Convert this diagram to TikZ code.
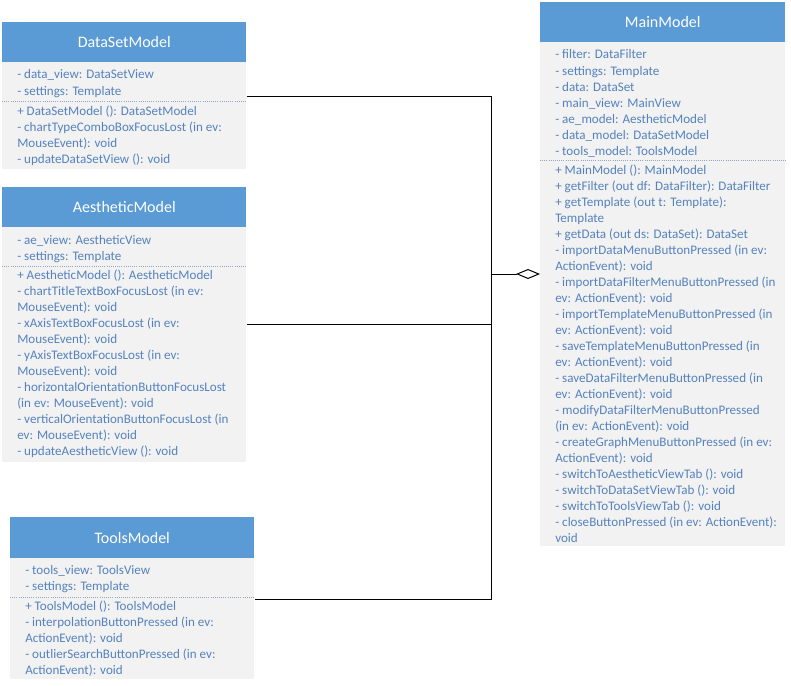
\documentclass[tikz,border=0pt]{standalone}
\usepackage{fontspec}
\setmainfont{Carlito}
\usetikzlibrary{arrows.meta}
\definecolor{hdr}{HTML}{5B9BD5}
\definecolor{bodyfill}{HTML}{F2F2F2}
\definecolor{txt}{HTML}{5582BE}
\definecolor{sepc}{HTML}{8EA6C4}
\newcommand\umllines[4]{%
  \foreach \t [count=\i from 1] in {#4} {%
    \node[linetxt] (#1\i) at ({#2},{#3+(\i-1)*16}) {\t};
  }%
}
\begin{document}
\begin{tikzpicture}[x=0.75pt,y=-0.75pt,
  hdrbox/.style={draw=none,fill=hdr,anchor=north west,inner sep=0pt,
    minimum height=30pt,text=white,font=\fontsize{12}{14}\selectfont},
  bodybox/.style={draw=none,fill=bodyfill,anchor=north west,inner sep=0pt},
  linetxt/.style={anchor=base west,inner sep=0pt,text=txt,font=\fontsize{9.8}{11}\selectfont},
  sepline/.style={draw=sepc,densely dotted,line width=0.6pt},
  conn/.style={draw=black,line width=0.75pt}]
\useasboundingbox (0,0) rectangle (791,685);
\fill[white] (0,0) rectangle (791,685);

% DataSetModel
\node[hdrbox,minimum width=183pt] (dsh) at (2,22) {DataSetModel};
\node[bodybox,minimum width=183pt,minimum height=80.25pt] (dsb) at (2,62) {};
\draw[sepline] (dsb.west |- 0,101) -- (dsb.east |- 0,101);
\umllines{dsa}{17}{79}{{- data\_view: DataSetView},{- settings: Template}}
\umllines{dsm}{17}{115}{{+ DataSetModel (): DataSetModel},{- chartTypeComboBoxFocusLost (in ev:},{MouseEvent): void},{- updateDataSetView (): void}}

% AestheticModel
\node[hdrbox,minimum width=183pt] (aeh) at (2,187) {AestheticModel};
\node[bodybox,minimum width=183pt,minimum height=176.25pt] (aeb) at (2,227) {};
\draw[sepline] (aeb.west |- 0,266) -- (aeb.east |- 0,266);
\umllines{aea}{17}{244}{{- ae\_view: AestheticView},{- settings: Template}}
\umllines{aem}{17}{279}{{+ AestheticModel (): AestheticModel},{- chartTitleTextBoxFocusLost (in ev:},{MouseEvent): void},{- xAxisTextBoxFocusLost (in ev:},{MouseEvent): void},{- yAxisTextBoxFocusLost (in ev:},{MouseEvent): void},{- horizontalOrientationButtonFocusLost},{(in ev: MouseEvent): void},{- verticalOrientationButtonFocusLost (in},{ev: MouseEvent): void},{- updateAestheticView (): void}}

% ToolsModel
\node[hdrbox,minimum width=183pt,minimum height=30.75pt] (tlh) at (10,517) {ToolsModel};
\node[bodybox,minimum width=183pt,minimum height=90.75pt] (tlb) at (10,558) {};
\draw[sepline] (tlb.west |- 0,597) -- (tlb.east |- 0,597);
\umllines{tla}{25}{574}{{- tools\_view: ToolsView},{- settings: Template}}
\umllines{tlm}{25}{610}{{+ ToolsModel (): ToolsModel},{- interpolationButtonPressed (in ev:},{ActionEvent): void},{- outlierSearchButtonPressed (in ev:},{ActionEvent): void}}

% MainModel
\node[hdrbox,minimum width=183.75pt] (mmh) at (540,2) {MainModel};
\node[bodybox,minimum width=183.75pt,minimum height=378pt] (mmb) at (540,42) {};
\draw[sepline] (mmb.west |- 0,160) -- (mmb.east |- 0,160);
\umllines{mma}{555}{59}{{- filter: DataFilter},{- settings: Template},{- data: DataSet},{- main\_view: MainView},{- ae\_model: AestheticModel},{- data\_model: DataSetModel},{- tools\_model: ToolsModel}}
\umllines{mmm}{555}{174}{{+ MainModel (): MainModel},{+ getFilter (out df: DataFilter): DataFilter},{+ getTemplate (out t: Template):},{Template},{+ getData (out ds: DataSet): DataSet},{- importDataMenuButtonPressed (in ev:},{ActionEvent): void},{- importDataFilterMenuButtonPressed (in},{ev: ActionEvent): void},{- importTemplateMenuButtonPressed (in},{ev: ActionEvent): void},{- saveTemplateMenuButtonPressed (in},{ev: ActionEvent): void},{- saveDataFilterMenuButtonPressed (in},{ev: ActionEvent): void},{- modifyDataFilterMenuButtonPressed},{(in ev: ActionEvent): void},{- createGraphMenuButtonPressed (in ev:},{ActionEvent): void},{- switchToAestheticViewTab (): void},{- switchToDataSetViewTab (): void},{- switchToToolsViewTab (): void},{- closeButtonPressed (in ev: ActionEvent):},{void}}

% connectors
\coordinate (jtop) at (491,96);
\coordinate (jmid) at (491,274);
\coordinate (jbot) at (491,599);
\coordinate (jae) at (491,324);
\draw[conn] (dsb.east |- jtop) -- (jtop) -- (jbot) -- (tlb.east |- jbot);
\draw[conn] (aeb.east |- jae) -- (jae);
\draw[conn,-{Diamond[open,fill=white,length=18pt,width=7.5pt,line width=0.75pt]}] (jmid) -- (mmb.west |- jmid);
\end{tikzpicture}
\end{document}
